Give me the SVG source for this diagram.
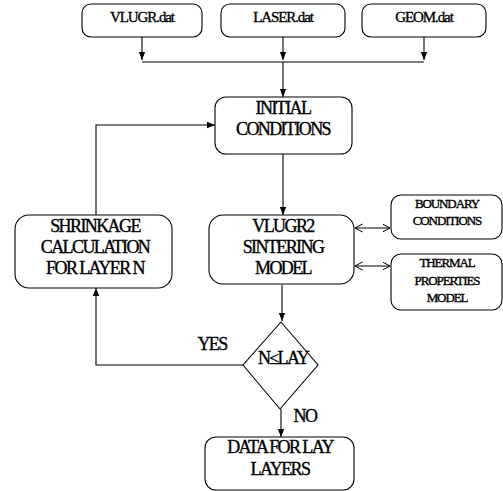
<svg xmlns="http://www.w3.org/2000/svg" width="503" height="491" viewBox="0 0 503 491">
<defs>
<marker id="ah" markerWidth="8" markerHeight="8" viewBox="0 0 8 8" refX="8" refY="4" orient="auto" markerUnits="userSpaceOnUse">
<path d="M0,0.8 L8,4 L0,7.2 Z" fill="#000"/>
</marker>
<marker id="oh" markerWidth="8" markerHeight="10" viewBox="0 0 8 10" refX="7.5" refY="5" orient="auto-start-reverse" markerUnits="userSpaceOnUse">
<path d="M0,1 L7.5,5 L0,9" fill="none" stroke="#000" stroke-width="1"/>
</marker>
<style>
.b{fill:#fff;stroke:#000;stroke-width:1.1}
text{font-family:"Liberation Serif","Times New Roman",serif;text-anchor:middle;fill:#000;stroke:#000;stroke-width:0.35}
.t{font-size:18px;letter-spacing:-1.6px}
.s{font-size:15px;letter-spacing:-1.1px}
.x{font-size:13px;letter-spacing:-1.1px}
.c{fill:none;stroke:#000;stroke-width:1.1}
</style>
</defs>
<rect width="503" height="491" fill="#fff"/>
<g id="connectors">
<path class="c" d="M142,37 V60" marker-end="url(#ah)"/>
<path class="c" d="M283,37 V60" marker-end="url(#ah)"/>
<path class="c" d="M424,37 V60" marker-end="url(#ah)"/>
<path class="c" d="M142,62 H424"/>
<path class="c" d="M283,62 V97" marker-end="url(#ah)"/>
<path class="c" d="M283,154 V215" marker-end="url(#ah)"/>
<path class="c" d="M96,215 V125 H215" marker-end="url(#ah)"/>
<path class="c" d="M355,228 H390" marker-start="url(#oh)" marker-end="url(#oh)"/>
<path class="c" d="M355,266 H390" marker-start="url(#oh)" marker-end="url(#oh)"/>
<path class="c" d="M282,285 V321" marker-end="url(#ah)"/>
<path class="c" d="M243,365 H96 V288" marker-end="url(#ah)"/>
<path class="c" d="M281,409 V437" marker-end="url(#ah)"/>
</g>
<g id="vlugr-dat"><rect class="b" x="82" y="4" width="120" height="33" rx="9"/><text class="s" x="142" y="22">VLUGR.dat</text></g>
<g id="laser-dat"><rect class="b" x="221" y="4" width="124" height="33" rx="9"/><text class="s" x="283" y="22">LASER.dat</text></g>
<g id="geom-dat"><rect class="b" x="362" y="4" width="124" height="33" rx="9"/><text class="s" x="424" y="22">GEOM.dat</text></g>
<g id="initial"><rect class="b" x="215" y="97" width="137" height="57" rx="11"/><text class="t" x="283" y="114">INITIAL</text><text class="t" x="283" y="135">CONDITIONS</text></g>
<g id="shrinkage"><rect class="b" x="15" y="215" width="157" height="73" rx="14"/><text class="t" x="95" y="232">SHRINKAGE</text><text class="t" x="95" y="253">CALCULATION</text><text class="t" x="95" y="274">FOR LAYER N</text></g>
<g id="vlugr2"><rect class="b" x="209" y="215" width="145" height="69" rx="14"/><text class="t" x="283" y="232">VLUGR2</text><text class="t" x="283" y="253">SINTERING</text><text class="t" x="283" y="274">MODEL</text></g>
<g id="boundary"><rect class="b" x="391" y="195" width="111" height="44" rx="10"/><text class="x" x="447" y="208">BOUNDARY</text><text class="x" x="447" y="225">CONDITIONS</text></g>
<g id="thermal"><rect class="b" x="391" y="254" width="111" height="56" rx="10"/><text class="x" x="447" y="267">THERMAL</text><text class="x" x="447" y="285">PROPERTIES</text><text class="x" x="447" y="302">MODEL</text></g>
<g id="decision"><path class="b" d="M281,322 L318,365 L280,409 L243,365 Z"/><text class="t" x="283" y="364">N≤LAY</text></g>
<g id="labels"><text class="t" x="212" y="350">YES</text><text class="t" x="305" y="422">NO</text></g>
<g id="data"><rect class="b" x="205" y="437" width="149" height="53" rx="11"/><text class="t" x="280" y="453">DATA FOR LAY</text><text class="t" x="280" y="475">LAYERS</text></g>
</svg>
